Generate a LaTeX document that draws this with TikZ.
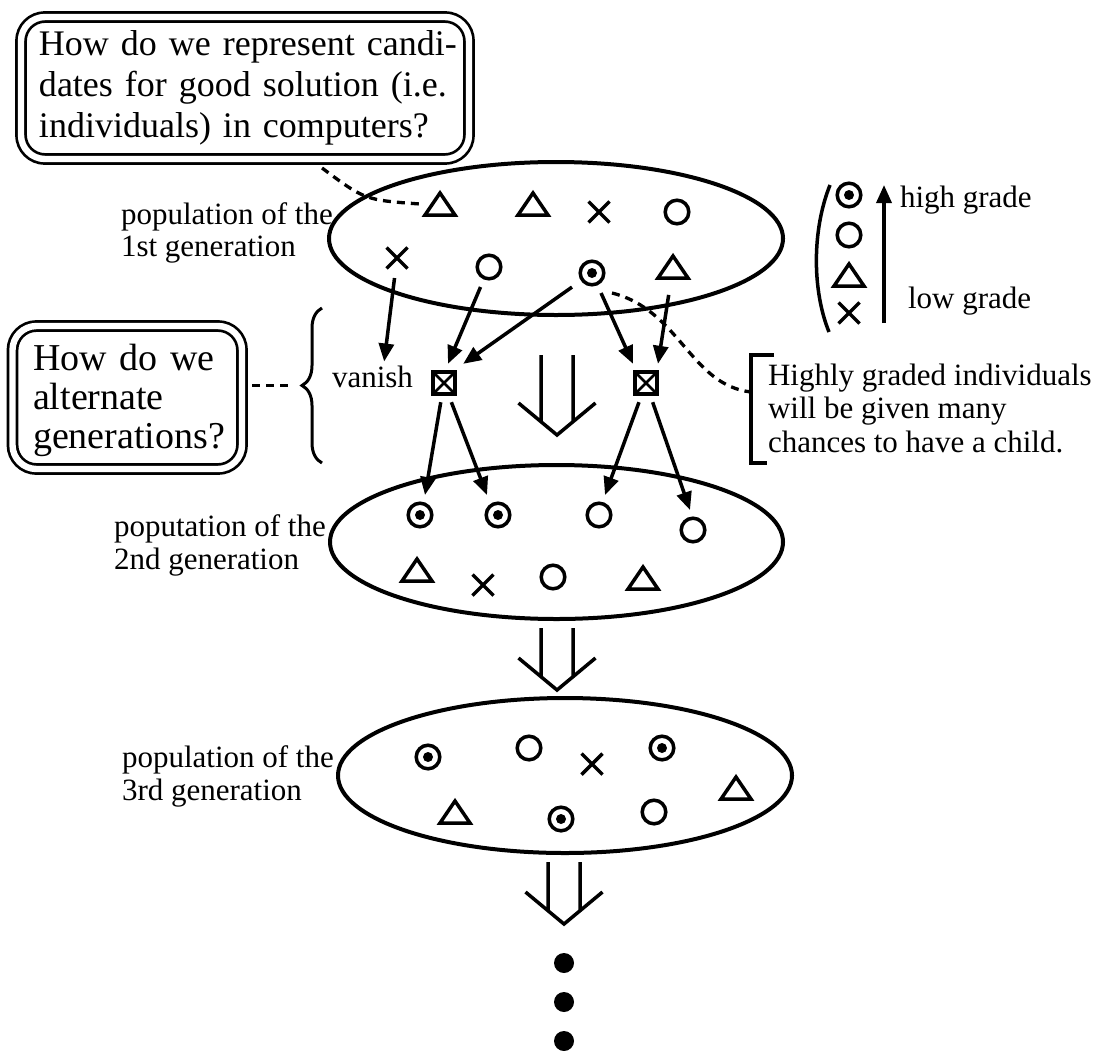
\documentclass[tikz,border=0pt]{standalone}
\usepackage{fontspec}
\setmainfont{Liberation Serif}
\usetikzlibrary{shapes.geometric, arrows.meta, decorations.pathreplacing}

\begin{document}
\begin{tikzpicture}[x=0.5pt, y=-0.5pt,
  every node/.style={inner sep=0pt, outer sep=0pt},
  thk/.style={line width=1.75pt},
  small/.style={font=\fontsize{15.5}{16.75}\selectfont},
  big/.style={font=\fontsize{19}{20.25}\selectfont},
  lbl/.style={small, anchor=base west},
  qbox/.style={draw, double, line width=1.35pt, double distance=3.2pt,
    rounded corners=12pt, big, align=left},
  pop/.style={draw, ellipse, line width=2pt},
  glyph/.style={rectangle, minimum size=20pt},
  gO/.style={glyph, path picture={\draw[thk] (path picture bounding box.center) circle[radius=5.9pt];}},
  gOO/.style={glyph, path picture={\draw[thk] (path picture bounding box.center) circle[radius=5.9pt];
    \fill (path picture bounding box.center) circle[radius=2.5pt];}},
  gT/.style={glyph, path picture={\draw[thk]
    ([shift={(-15,11)}]path picture bounding box.center) --
    ([shift={(15,11)}]path picture bounding box.center) --
    ([shift={(0,-11)}]path picture bounding box.center) -- cycle;}},
  gX/.style={glyph, path picture={\draw[thk]
    ([shift={(-10.5,-10.5)}]path picture bounding box.center) --
    ([shift={(10.5,10.5)}]path picture bounding box.center)
    ([shift={(-10.5,10.5)}]path picture bounding box.center) --
    ([shift={(10.5,-10.5)}]path picture bounding box.center);}},
  bx/.style={draw, thk, minimum size=11.2pt, outer sep=4pt,
    path picture={\draw[line width=1.3pt]
      (path picture bounding box.north west) -- (path picture bounding box.south east)
      (path picture bounding box.north east) -- (path picture bounding box.south west);}},
  arr/.style={thk, -{Triangle[length=9pt, width=7.5pt]}},
  dsh/.style={line width=1.65pt, dash pattern=on 4pt off 3pt},
  pics/down/.style={code={
    \draw[thk] (-16,-#1) -- (-16,-13.3) (16,-#1) -- (16,-13.3)
               (-38.5,-32) -- (0,0) -- (38.5,-32);}},
]
\useasboundingbox (0,0) rectangle (1101,1050);

% question boxes
\node[qbox, text width=224pt, minimum height=71pt,
      font=\fontsize{18}{20.5}\selectfont] (q1) at (245,88)
  {\hspace*{9pt}\makebox[210.5pt][s]{How do we represent candi-}\\
   \hspace*{9pt}\makebox[210.5pt][s]{dates for good solution (i.e.}\\
   \hspace*{9pt}\makebox[210.5pt][s]{individuals) in computers?}};
\node[qbox, text width=114.75pt, minimum height=71.5pt,
      font=\fontsize{19}{19.5}\selectfont] (q2) at (127.25,397.5)
  {\hspace*{10.25pt}\rule{0pt}{16.5pt}How do we\\ \hspace*{10.25pt}alternate\\ \hspace*{10.25pt}generations?};

% populations
\node[pop, minimum width=227pt, minimum height=76.5pt] (pop1) at (556,238.5) {};
\node[pop, minimum width=226.5pt, minimum height=77pt] (pop2) at (556.5,542) {};
\node[pop, minimum width=227pt, minimum height=77.5pt] (pop3) at (565,775.5) {};

\node[lbl] (l1a) at (121,224) {population of the};
\node[lbl] (l1b) at (121,256) {1st generation};
\node[lbl] (l2a) at (114,536) {poputation of the};
\node[lbl] (l2b) at (114,569) {2nd generation};
\node[lbl] (l3a) at (122,767) {population of the};
\node[lbl] (l3b) at (122,800) {3rd generation};

% 1st generation
\node[gT]  (t1) at (440,204) {};
\node[gT]  (t2) at (533,204) {};
\node[gX]  (x1) at (599,212) {};
\node[gO]  (o1) at (677,212) {};
\node[gX]  (x2) at (397,258) {};
\node[gO]  (o2) at (489,267) {};
\node[gOO] (d1) at (592,273) {};
\node[gT]  (t3) at (673,267) {};

% crossover
\node[lbl] (van) at (332,387) {vanish};
\node[bx] (bx1) at (444,383) {};
\node[bx] (bx2) at (646,383) {};

% 2nd generation
\node[gOO] (a1) at (420,515) {};
\node[gOO] (a2) at (498,515) {};
\node[gO]  (a3) at (599,515) {};
\node[gO]  (a4) at (693,530) {};
\node[gT]  (a5) at (417,570) {};
\node[gX]  (a6) at (483,585) {};
\node[gO]  (a7) at (553,577) {};
\node[gT]  (a8) at (643,578) {};

% 3rd generation
\node[gOO] (b1) at (428,757) {};
\node[gO]  (b2) at (529,748) {};
\node[gX]  (b3) at (592,764) {};
\node[gOO] (b4) at (662,748) {};
\node[gT]  (b5) at (736,788) {};
\node[gT]  (b6) at (455,812) {};
\node[gOO] (b7) at (561,819) {};
\node[gO]  (b8) at (654,812) {};

% selection and crossover arrows
\draw[arr, shorten >=2pt] (x2) -- ([xshift=5.6pt]van.north);
\draw[arr] (o2) -- ([xshift=2pt]bx1.north);
\draw[arr] (d1) -- (bx1.north east);
\draw[arr] (d1) -- ([xshift=-6.5pt]bx2.north);
\draw[arr, shorten <=4pt] (t3) -- ([xshift=6pt]bx2.north);
\draw[arr] (bx1) -- ([xshift=2.5pt]a1.north);
\draw[arr] (bx1) -- ([xshift=-5.5pt]a2.north);
\draw[arr] (bx2) -- ([xshift=3pt]a3.north);
\draw[arr] (bx2) -- ([xshift=-1.5pt]a4.north);

% generation steps
\pic at (557,435) {down=80};
\pic at (557,690) {down=62};
\pic at (564,924) {down=62};
\fill (564,963) circle[radius=5pt];
\fill (564,1002) circle[radius=5pt];
\fill (564,1041) circle[radius=5pt];

% grade legend
\node[gOO] (k1) at (849,195) {};
\node[gO]  (k2) at (849,235) {};
\node[gT]  (k3) at (849,275) {};
\node[gX]  (k4) at (849,313) {};
\draw[thk] (830,185) .. controls (812,230) and (812,290) .. (829,332);
\coordinate (ax0) at (884,323);
\coordinate (ax1) at (884,185);
\draw[arr] (ax0) -- (ax1);
\node[lbl] (hi) at (900,207) {high grade};
\node[lbl] (lo) at (908,308) {low grade};

% brace for the alternation step
\draw[line width=1.5pt, decorate, decoration={brace, amplitude=10pt}] (322,463) -- (322,308);
\coordinate (btip) at (302,385.5);
\draw[dsh, shorten <=5pt, shorten >=4.5pt] (q2.east |- btip) -- (btip);

% note on selection
\draw[thk] (774,355) -- (751,355) -- (751,463) -- (767,463);
\coordinate (brk) at (751,392);
\node[lbl] (n1) at (768,385) {Highly graded individuals};
\node[lbl] (n2) at (768,418) {will be given many};
\node[lbl] (n3) at (768,452) {chances to have a child.};

% callouts
\draw[dsh] ([xshift=38.5pt, yshift=-4.5pt]q1.south) .. controls (365,200) .. (t1.west);
\draw[dsh] (d1.south east) .. controls (680,310) and (690,385) .. (brk);
\end{tikzpicture}
\end{document}
